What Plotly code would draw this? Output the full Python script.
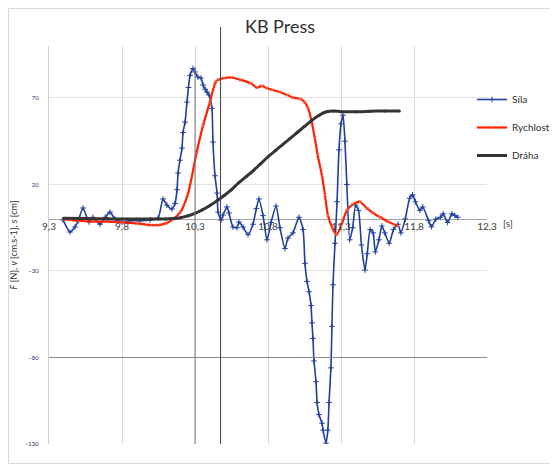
import plotly.graph_objects as go

# ---- data ----
sila_t = [9.396, 9.444, 9.478, 9.50, 9.533, 9.574, 9.601, 9.649, 9.685, 9.718, 9.752, 9.80, 9.855, 9.923,
          9.992, 10.047, 10.081, 10.108, 10.142, 10.163, 10.177, 10.184, 10.197, 10.211, 10.218, 10.232,
          10.245, 10.255, 10.266, 10.286, 10.30, 10.32, 10.341, 10.355, 10.37, 10.382, 10.396, 10.416,
          10.423, 10.437, 10.451, 10.458, 10.478, 10.492, 10.519, 10.533, 10.56, 10.588, 10.601, 10.629,
          10.663, 10.697, 10.72, 10.738, 10.766, 10.793, 10.821, 10.855, 10.882, 10.916, 10.937, 10.971,
          11.012, 11.04, 11.053, 11.067, 11.081, 11.095, 11.101, 11.108, 11.115, 11.129, 11.136, 11.149,
          11.17, 11.177, 11.197, 11.21, 11.218, 11.231, 11.238, 11.245, 11.259, 11.273, 11.286, 11.30,
          11.314, 11.327, 11.34, 11.36, 11.38, 11.40, 11.42, 11.44, 11.464, 11.48, 11.50, 11.52, 11.535,
          11.56, 11.58, 11.60, 11.63, 11.66, 11.69, 11.71, 11.74, 11.77, 11.79, 11.81, 11.84, 11.86,
          11.90, 11.92, 11.95, 11.98, 12.00, 12.03, 12.06, 12.08, 12.10]
sila_v = [-0.5, -7.5, -4.6, -1, 6.4, -1.7, 1, -3, 1, 4, 0, -1.7, -1, -1,
          -0.6, 0.6, 11.6, 8, 5.8, 9, 17, 26.6, 34, 41, 50, 56,
          67.6, 76, 83, 87, 85, 82, 81.5, 77.5, 75, 73.4, 71.7, 64,
          44.5, 25, 15, 4, -0.6, 2.3, 7, 3.5, -4.6, -5, -1.7, -4.6,
          -9, -3, 6, 11.6, 2, -12, -2, 7.5, -5, -17, -11, -8,
          1, -6, -25.6, -36, -42, -50, -60, -69, -82, -94, -106, -113,
          -118, -122, -129.5, -122, -106, -86, -62, -38, -14, 10, 40, 55,
          60, 45, 20, -12, -5, 8, 5, -15, -29.5, -20, -6, -8, -19,
          -12, -4, -8, -14, -6, -3, -8, 0, 12, 14, 10, 5, 7,
          -1, -4.5, 0, 1, 3, -2, 3, 2, 1]

rychlost_t = [9.40, 9.45, 9.50, 9.60, 9.70, 9.80, 9.90, 10.00, 10.05, 10.10, 10.15, 10.20, 10.25, 10.27,
              10.31, 10.355, 10.40, 10.44, 10.46, 10.50, 10.55, 10.61, 10.68, 10.725, 10.76, 10.79,
              10.83, 10.88, 10.93, 10.97, 11.02, 11.05, 11.075, 11.10, 11.12, 11.14, 11.17, 11.19,
              11.21, 11.24, 11.27, 11.30, 11.34, 11.38, 11.43, 11.48, 11.52, 11.57, 11.62, 11.69]
rychlost_v = [0, -0.5, -1, -1.5, -1.5, -2, -2.5, -3.5, -3.5, -2.5, 0, 4, 14, 21,
              38, 54, 67, 79, 80.5, 81.5, 81.8, 80.5, 78.6, 76, 77, 75.7,
              74.6, 73.4, 71.7, 70.2, 69.5, 67.6, 64, 56, 47, 37, 25, 14,
              2.3, -5, -9, -4, 5, 8.5, 10, 6, 3.5, 1, -1.5, -4]

draha_t = [9.40, 9.50, 9.60, 9.70, 9.80, 9.90, 10.00, 10.10, 10.15, 10.20, 10.25, 10.30, 10.35, 10.40,
           10.45, 10.50, 10.55, 10.60, 10.65, 10.70, 10.75, 10.80, 10.85, 10.90, 10.95, 11.00, 11.05,
           11.10, 11.15, 11.20, 11.25, 11.30, 11.40, 11.50, 11.60, 11.70]
draha_v = [0.5, 0.3, 0.2, 0.1, 0, 0, 0, 0, 0.3, 0.8, 1.8, 3.3, 5.3, 7.7,
           10.5, 13.6, 17, 21, 24.5, 28, 32, 36, 39.5, 43, 46.5, 50, 53.5,
           57, 60, 62, 62.5, 62, 62, 62.3, 62.5, 62.5]

x_ticks = [9.3, 9.8, 10.3, 10.8, 11.3, 11.8, 12.3]
y_ticks = [70, 20, -30, -80, -130]
marker_lines = [10.3, 10.475]

W, H = 550, 457
L, R, T, B = 41, 71, 38, 21
PW, PH = W - L - R, H - T - B

fig = go.Figure()
fig.add_trace(go.Scatter(x=sila_t, y=sila_v, name="Síla", mode="lines+markers",
                         line=dict(color="#1f3f9f", width=1.6, shape="spline", smoothing=0.6),
                         marker=dict(symbol="cross-thin", size=4, line=dict(color="#1f3f9f", width=1)),
                         legendgroup="a"))
fig.add_trace(go.Scatter(x=rychlost_t, y=rychlost_v, name="Rychlost", mode="lines+markers",
                         line=dict(color="#ff2200", width=2.2, shape="spline", smoothing=0.6),
                         marker=dict(symbol="x-thin", size=3, line=dict(color="#ff5a3c", width=1)),
                         legendgroup="b"))
fig.add_trace(go.Scatter(x=draha_t, y=draha_v, name="Dráha", mode="lines+markers",
                         line=dict(color="#353535", width=3, shape="spline", smoothing=0.6),
                         marker=dict(symbol="circle", size=3, color="#353535"),
                         legendgroup="c"))

shapes = [
    dict(type="line", xref="paper", yref="y", x0=0, x1=1, y0=-80, y1=-80,
         line=dict(color="#8a8a8a", width=1)),
    dict(type="line", xref="x", yref="y", x0=marker_lines[0], x1=marker_lines[0], y0=-130, y1=88,
         line=dict(color="#7a7a7a", width=1)),
    dict(type="line", xref="x", yref="paper", x0=marker_lines[1], x1=marker_lines[1], y0=0,
         y1=(PH + T - 19) / PH, line=dict(color="#404040", width=1)),
    dict(type="rect", xref="paper", yref="paper", x0=(0.5 - L) / PW, x1=(W + 20 - L) / PW,
         y0=-(B - 1.5) / PH, y1=(PH + T - 0.5) / PH, line=dict(color="#d9d9d9", width=1)),
]

fig.update_layout(
    width=W, height=H,
    margin=dict(l=L, r=R, t=T, b=B, autoexpand=False),
    paper_bgcolor="white", plot_bgcolor="white",
    separators=", ",
    font=dict(family="Lato, Open Sans, sans-serif", color="#404040"),
    title=dict(text="KB Press", x=272 / W, xanchor="center", y=1 - 19 / H, yanchor="middle",
               font=dict(size=18, color="#303030")),
    showlegend=True,
    legend=dict(x=464 / W, y=1 - 77 / H, xref="container", yref="container",
                xanchor="left", yanchor="top", font=dict(size=10, color="#303030"),
                tracegroupgap=9, itemwidth=30, bgcolor="rgba(0,0,0,0)"),
    shapes=shapes,
    xaxis=dict(range=[9.3, 12.3], tickvals=x_ticks, tickformat=".1f", anchor="free",
               position=130 / 230, showline=False, ticks="", showgrid=True, gridcolor="#d9d9d9",
               zeroline=False, tickfont=dict(size=10, color="#404040"), automargin=False),
    yaxis=dict(range=[-130, 100], tickvals=y_ticks, showgrid=True, gridcolor="#e3e3e3",
               zeroline=True, zerolinecolor="#a6a6a6", zerolinewidth=1,
               showline=True, linecolor="#d0d0d0", ticks="", automargin=False,
               ticklabelstandoff=8,
               tickfont=dict(size=6, color="#1f3864"),
               title=dict(text="<i>F</i> [N], <i>v</i> [cm.s-1], <i>s</i> [cm]",
                          font=dict(size=9, color="#303030"), standoff=8)),
    annotations=[dict(text="[s]", xref="paper", yref="y", x=(493 - L) / PW, y=-2,
                      xanchor="left", yanchor="middle", showarrow=False,
                      font=dict(size=10, color="#404040"))],
)

fig.write_html("out.html")
